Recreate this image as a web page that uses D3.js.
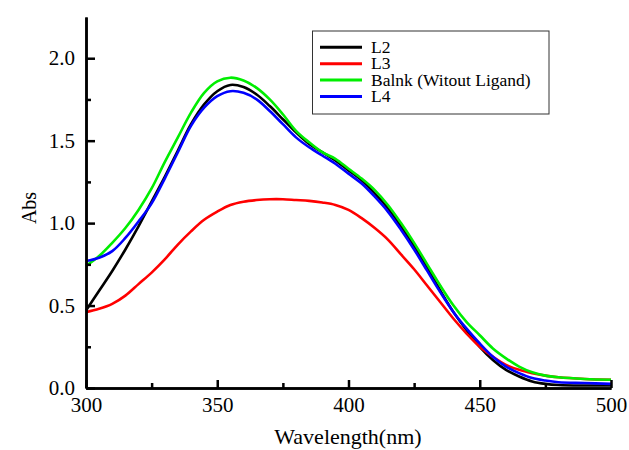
<!DOCTYPE html>
<html>
<head>
<meta charset="utf-8">
<script src="https://cdn.jsdelivr.net/npm/d3@7"></script>
<style>
body{margin:0;background:#fff;}
</style>
</head>
<body>
<svg id="svg" width="629" height="450"></svg>
<script>
var wavelength=[300,305,310,315,320,325,330,335,340,345,350,355,360,365,370,375,380,385,390,395,400,405,410,415,420,425,430,435,440,445,450,455,460,465,470,475,480,490,500];

var l2=[0.47,0.59,0.71,0.84,0.98,1.13,1.28,1.44,1.60,1.72,1.80,1.838,1.825,1.78,1.71,1.63,1.55,1.48,1.43,1.38,1.32,1.26,1.18,1.09,0.98,0.86,0.73,0.59,0.46,0.35,0.25,0.17,0.11,0.07,0.04,0.025,0.018,0.015,0.015];
var l3=[0.46,0.48,0.51,0.56,0.63,0.70,0.78,0.87,0.95,1.02,1.07,1.11,1.13,1.14,1.145,1.145,1.14,1.135,1.125,1.11,1.08,1.03,0.97,0.90,0.81,0.72,0.62,0.52,0.42,0.33,0.25,0.19,0.14,0.11,0.09,0.075,0.065,0.055,0.05];
var blank=[0.74,0.80,0.88,0.97,1.08,1.21,1.37,1.52,1.67,1.79,1.86,1.882,1.865,1.82,1.75,1.66,1.56,1.49,1.43,1.39,1.33,1.27,1.20,1.11,1.00,0.88,0.75,0.62,0.50,0.40,0.32,0.24,0.18,0.13,0.095,0.075,0.065,0.055,0.05];
var l4=[0.77,0.79,0.83,0.91,1.01,1.12,1.27,1.43,1.59,1.70,1.77,1.80,1.79,1.75,1.68,1.60,1.52,1.46,1.41,1.36,1.30,1.24,1.16,1.07,0.96,0.84,0.71,0.58,0.46,0.36,0.27,0.19,0.13,0.09,0.06,0.045,0.035,0.03,0.025];

var seriesNames=["L2","L3","Balnk (Witout Ligand)","L4"];
var seriesValues=[l2,l3,blank,l4];
var colors=["#000000","#ff0000","#00ee00","#0000ff"];

var xTicks=[300,350,400,450,500];
var xMinor=[325,375,425,475];
var yTicks=[0,0.5,1,1.5,2];
var yMinor=[0.25,0.75,1.25,1.75];

var svg=d3.select("#svg");
var padding={top:17,left:86,right:18,bottom:62};

var xscale=d3.scaleLinear().domain([300,500]).range([padding.left,611]);
var yscale=d3.scaleLinear().domain([0,2.25]).range([388,padding.top]);

// lines
var line=d3.line()
.x(function(d){return xscale(d[0]);})
.y(function(d){return yscale(d[1]);})
.curve(d3.curveCatmullRom.alpha(0.5));

seriesValues.forEach(function(vals,i){
	var pts=wavelength.map(function(w,j){return [w,vals[j]];});
	svg.append("path")
	.datum(pts)
	.attr("d",line)
	.attr("fill","none")
	.attr("stroke",colors[i])
	.attr("stroke-width",2.6);
});

// axes (ticks pointing inward)
var xaxis=svg.append("g")
.attr("transform","translate(0,388)")
.call(d3.axisBottom(xscale).tickValues(xTicks).tickSizeInner(-8).tickSizeOuter(0).tickPadding(12).tickFormat(d3.format("d")));
svg.append("g")
.attr("transform","translate(0,388)")
.call(d3.axisBottom(xscale).tickValues(xMinor).tickSizeInner(-5).tickSizeOuter(0).tickFormat(""));

var yaxis=svg.append("g")
.attr("transform","translate("+padding.left+",0)")
.call(d3.axisLeft(yscale).tickValues(yTicks).tickSizeInner(-9).tickSizeOuter(0).tickPadding(11).tickFormat(d3.format(".1f")));
svg.append("g")
.attr("transform","translate("+padding.left+",0)")
.call(d3.axisLeft(yscale).tickValues(yMinor).tickSizeInner(-5).tickSizeOuter(0).tickFormat(""));

svg.selectAll(".domain").attr("stroke","#000").attr("stroke-width",2.5);
svg.selectAll(".tick line").attr("stroke","#000").attr("stroke-width",2.5);
svg.selectAll(".tick text").attr("font-size",21).attr("fill","#000");
xaxis.selectAll(".tick text").attr("dy","0.55em");

// axis titles
svg.append("text")
.attr("x",348).attr("y",444)
.attr("text-anchor","middle")
.attr("font-size",22)
.text("Wavelength(nm)");

svg.append("text")
.attr("transform","translate(36,208) rotate(-90)")
.attr("text-anchor","middle")
.attr("font-size",20)
.text("Abs");

// legend
var legend=svg.append("g");
legend.append("rect")
.attr("x",312.5).attr("y",31).attr("width",236.5).attr("height",83)
.attr("fill","#fff").attr("stroke","#333").attr("stroke-width",1);
seriesNames.forEach(function(n,i){
	var y=47.3+i*16.4;
	legend.append("line")
	.attr("x1",320).attr("x2",362).attr("y1",y).attr("y2",y)
	.attr("stroke",colors[i]).attr("stroke-width",3);
	legend.append("text")
	.attr("x",371).attr("y",y+5.5)
	.attr("font-size",17.5)
	.text(n);
});

svg.selectAll("text").style("font-family","'Liberation Serif'");
</script>
</body>
</html>
